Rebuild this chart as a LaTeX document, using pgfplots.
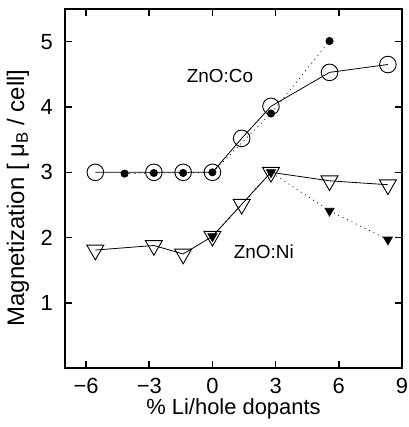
\documentclass[border=0pt]{standalone}
\usepackage{pgfplots}
\pgfplotsset{compat=1.18}
\usepackage{fontspec}
\setmainfont{Liberation Sans}

\begin{document}
\begin{tikzpicture}
  \begin{axis}[
      scale only axis,
      width=337bp, height=359.3bp,
      xmin=-7, xmax=9,
      ymin=0, ymax=5.5,
      xtick={-6,-3,0,3,6,9},
      xticklabels={−6,−3,0,3,6,9},
      ytick={1,2,3,4,5},
      font=\fontsize{22}{26}\selectfont,
      /pgf/number format/assume math mode=true,
      axis line style={line width=1.8bp},
      major tick length=7bp,
      every tick/.style={black, line width=1.5bp},
      xticklabel style={anchor=base, yshift=-24.7bp},
      yticklabel style={anchor=east, inner sep=0pt, xshift=-12bp},
      xlabel={\% Li/hole dopants},
      xlabel style={at={(axis description cs:0.5,0)}, anchor=base, yshift=-45.7bp},
      ylabel={Magnetization [ μ\textsubscript{B} / cell]},
      ylabel style={at={(axis description cs:-0.1395,0.474)}, anchor=center,
          font=\fontsize{24}{28}\selectfont},
      clip=false,
  ]

  % ZnO:Co, open circles
  \addplot[black, line width=0.8bp, mark=o, mark size=8.3bp,
      mark options={line width=0.9bp, solid}]
      coordinates {
      (-5.56,3.0) (-2.78,3.0) (-1.39,3.0) (0,3.0) (1.39,3.52)
      (2.78,4.01) (5.56,4.53) (8.33,4.65)
      };

  % ZnO:Co, filled dots
  \addplot[black, line width=0.8bp, dash pattern=on 0.9bp off 4bp,
      mark=*, mark size=3.6bp, mark options={solid}]
      coordinates {
      (-4.17,2.98) (-2.78,2.99) (-1.39,2.99) (0,3.0) (2.78,3.90) (5.56,5.01)
      };

  % ZnO:Ni, open triangles
  \addplot[black, line width=0.8bp, mark=triangle, mark size=9.8bp,
      mark options={rotate=180, line width=0.9bp, solid}]
      coordinates {
      (-5.56,1.81) (-2.78,1.88) (-1.39,1.75) (0,2.02) (1.39,2.51)
      (2.78,3.0) (5.56,2.87) (8.33,2.81)
      };

  % ZnO:Ni, filled triangles
  \addplot[black, line width=0.8bp, dash pattern=on 0.9bp off 4bp,
      mark=triangle*, mark size=5.2bp, mark options={rotate=180, solid}]
      coordinates {
      (0,2.02) (2.78,3.0) (5.56,2.41) (8.33,1.97)
      };

  \node[font=\fontsize{19}{22}\selectfont] at (axis cs:0.36,4.48) {ZnO:Co};
  \node[font=\fontsize{19}{22}\selectfont] at (axis cs:2.44,1.79) {ZnO:Ni};

  \end{axis}
  \pgfresetboundingbox
  \path[use as bounding box] (-65bp,-58.7bp) rectangle (344bp,368.3bp);
\end{tikzpicture}
\end{document}
